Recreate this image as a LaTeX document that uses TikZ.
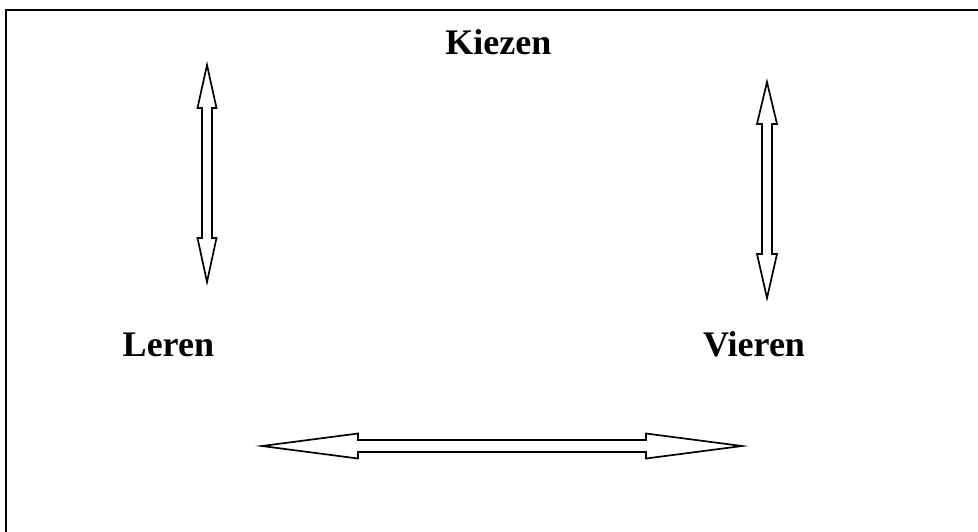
\documentclass[tikz,border=0pt]{standalone}
\usepackage{fontspec}
\setmainfont{Liberation Serif}
\begin{document}
\begin{tikzpicture}[x=1pt,y=-1pt,
  lbl/.style={font=\fontsize{36}{40}\selectfont\bfseries, inner sep=0pt, anchor=base},
  hollowarrow/.style={draw=black, fill=white, line width=1.7pt, line join=miter}]
\useasboundingbox (0,0) rectangle (978,531);
\fill[white] (0,0) rectangle (978,531);
\draw[line width=2pt] (5.5,560) -- (5.5,9.5) -- (1000,9.5);
% labels
\node[lbl] (kiezen) at (498.3,54) {Kiezen};
\node[lbl] (leren) at (168.4,356) {Leren};
\node[lbl] (vieren) at (754,356) {Vieren};
% left vertical double arrow
\draw[hollowarrow] (207,65) -- (216.5,108) -- (212,108) -- (212,238) -- (216.5,238)
  -- (207,282) -- (197.5,238) -- (202,238) -- (202,108) -- (197.5,108) -- cycle;
% right vertical double arrow
\draw[hollowarrow] (767,82) -- (777,124) -- (772,124) -- (772,254) -- (777,254)
  -- (767,298) -- (757,254) -- (762,254) -- (762,124) -- (757,124) -- cycle;
% horizontal double arrow
\draw[hollowarrow] (262,446) -- (358,433.5) -- (358,440) -- (646,440) -- (646,433.5)
  -- (742,446) -- (646,458.5) -- (646,452) -- (358,452) -- (358,458.5) -- cycle;
\end{tikzpicture}
\end{document}
